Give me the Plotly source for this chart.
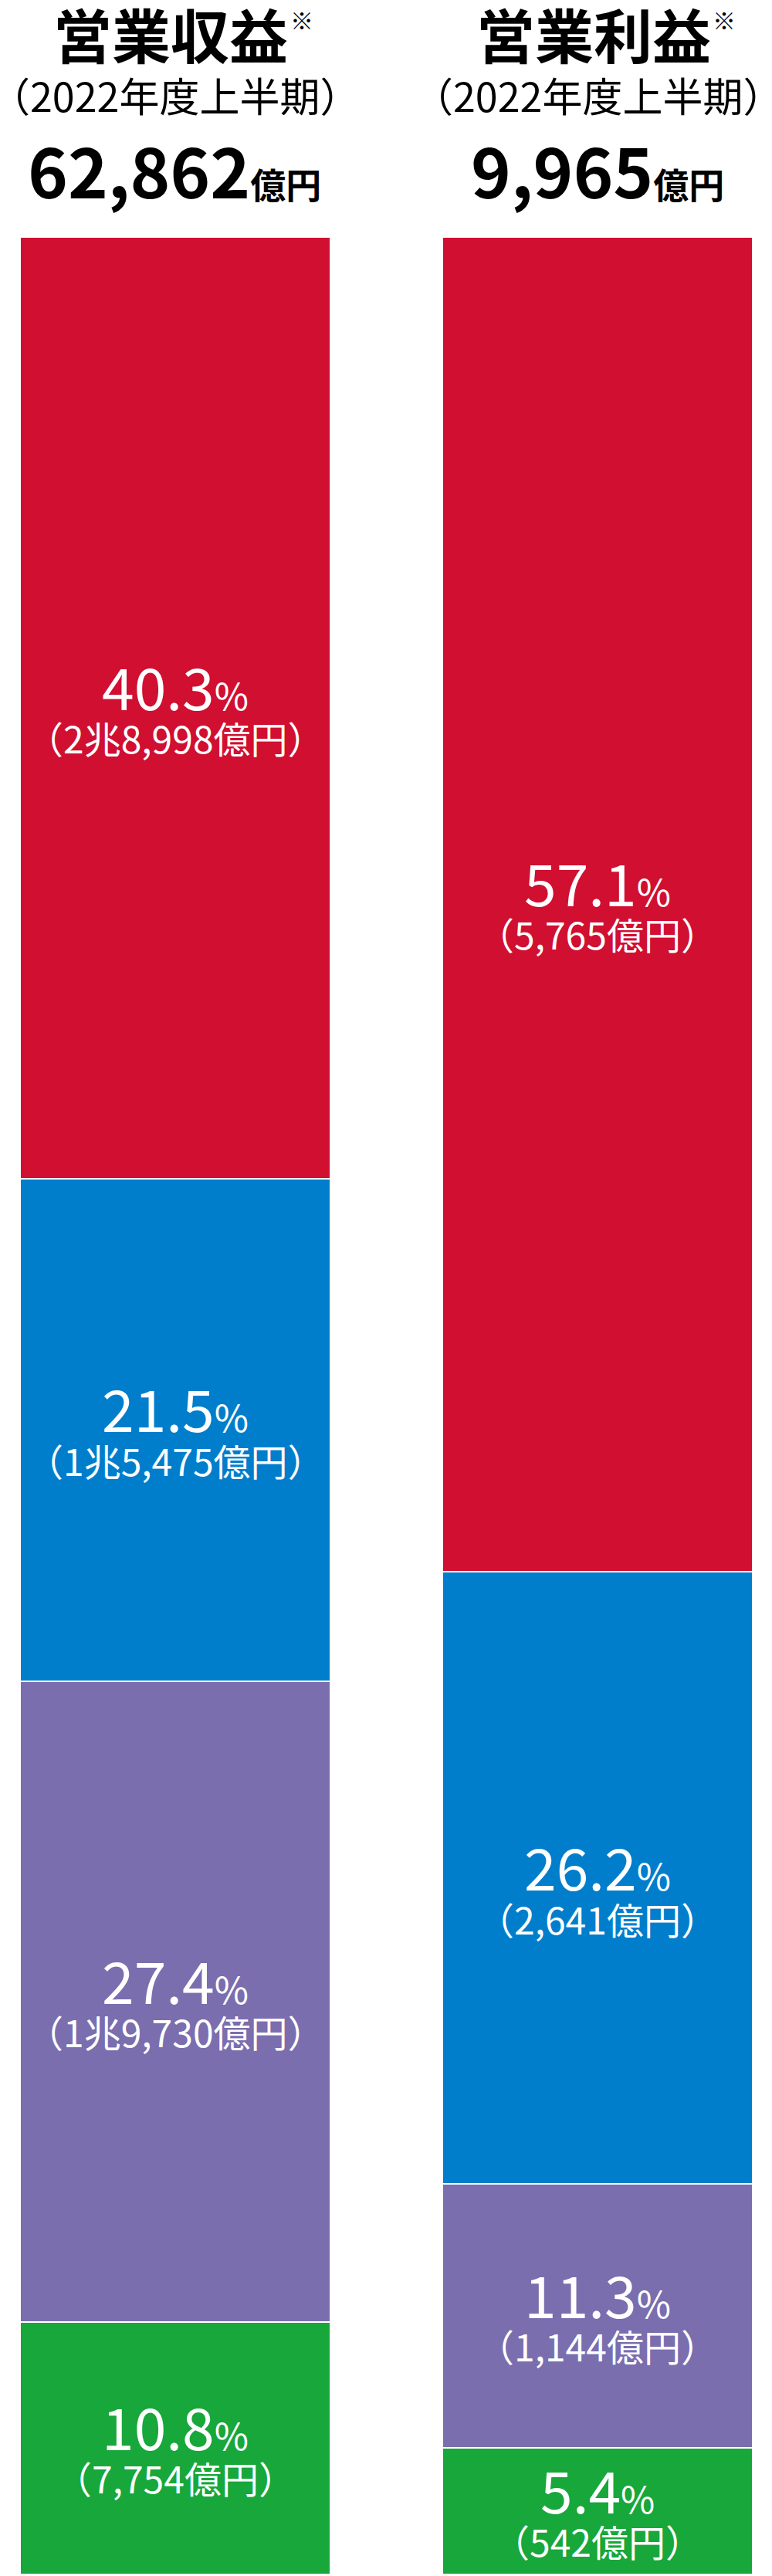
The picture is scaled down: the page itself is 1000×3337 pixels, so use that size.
import plotly.graph_objects as go

# ---------------- data ----------------
categories = ["営業収益", "営業利益"]
period_label = "（2022年度上半期）"
totals = ["62,862", "9,965"]
segment_names = ["セグメントA", "セグメントB", "セグメントC", "セグメントD"]  # top -> bottom
colors = ["#D00F31", "#007ECC", "#7A6EAF", "#17A73A"]

# shares (%), top -> bottom
revenue_share = [40.3, 21.5, 27.4, 10.8]
profit_share = [57.1, 26.2, 11.3, 5.4]
# amounts (億円)
revenue_amount = ["2兆8,998", "1兆5,475", "1兆9,730", "7,754"]
profit_amount = ["5,765", "2,641", "1,144", "542"]

# ---------------- figure ----------------
W, H = 1000, 3337
MT, MB = 307, 2
PLOT_H = H - MT - MB
FONT = "Noto Sans CJK JP"

x_pos = [0, 1]
fig = go.Figure()
# bottom segment first so the first listed is on top
for j in reversed(range(4)):
    fig.add_trace(go.Bar(
        x=x_pos,
        y=[revenue_share[j], profit_share[j]],
        name=segment_names[j],
        marker=dict(color=colors[j], line=dict(color="white", width=2)),
        width=0.735,
        hoverinfo="skip",
        showlegend=False,
    ))

annotations = []
shares = [revenue_share, profit_share]
amounts = [revenue_amount, profit_amount]
# fine vertical adjustments of label blocks (pixels, + = up)
block_shift = {(1, 1): -14}

for i in range(2):
    top = sum(shares[i])
    for j in range(4):
        h = shares[i][j]
        center = top - h / 2
        top -= h
        bs = block_shift.get((i, j), 0)
        annotations.append(dict(
            x=x_pos[i], y=center, xref="x", yref="y",
            text=f"{shares[i][j]}<span style='font-size:48px'>%</span>",
            showarrow=False, xanchor="center", yanchor="middle",
            font=dict(family=FONT, size=75, color="white"),
            yshift=bs + 30,
        ))
        annotations.append(dict(
            x=x_pos[i], y=center, xref="x", yref="y",
            text=f"（{amounts[i][j]}億円）",
            showarrow=False, xanchor="center", yanchor="middle",
            font=dict(family=FONT, size=48, color="white"),
            yshift=bs - 38,
        ))


def py(pix):
    """pixel y from top of page -> paper coordinate"""
    return 1 + (MT - pix) / PLOT_H


def px(pix):
    return pix / W


title_cx = [221, 769]
star_x = [391, 938]
total_cx = [226, 774]
for i in range(2):
    annotations.append(dict(
        x=px(title_cx[i]), y=py(43), xref="paper", yref="paper",
        text=f"<b>{categories[i]}</b>", showarrow=False,
        xanchor="center", yanchor="middle",
        font=dict(family=FONT, size=76, color="#000000"),
    ))
    annotations.append(dict(
        x=px(star_x[i]), y=py(25), xref="paper", yref="paper",
        text="※", showarrow=False, xanchor="center", yanchor="middle",
        font=dict(family=FONT, size=30, color="#000000"),
    ))
    annotations.append(dict(
        x=px(title_cx[i] + 5), y=py(122), xref="paper", yref="paper",
        text=period_label, showarrow=False,
        xanchor="center", yanchor="middle",
        font=dict(family=FONT, size=52, color="#000000"),
    ))
    annotations.append(dict(
        x=px(total_cx[i]), y=py(218), xref="paper", yref="paper",
        text=f"<b>{totals[i]}<span style='font-size:46px'>億円</span></b>",
        showarrow=False, xanchor="center", yanchor="middle",
        font=dict(family=FONT, size=88, color="#000000"),
    ))

fig.update_layout(
    width=W, height=H,
    margin=dict(l=0, r=0, t=MT, b=MB, pad=0),
    barmode="stack",
    bargap=0,
    paper_bgcolor="white",
    plot_bgcolor="white",
    xaxis=dict(range=[-227 / 547, (W - 227) / 547], visible=False, fixedrange=True),
    yaxis=dict(range=[0, 100], visible=False, fixedrange=True),
    annotations=annotations,
    font=dict(family=FONT),
)

fig.write_html("out.html", config={"displayModeBar": False})
